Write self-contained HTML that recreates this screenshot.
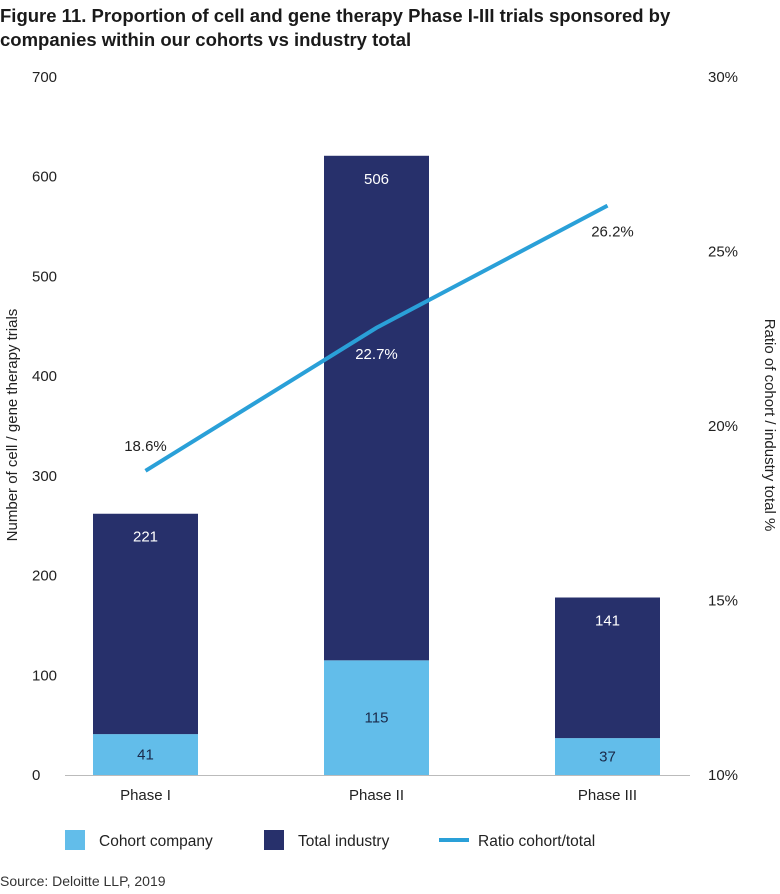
<!DOCTYPE html>
<html><head><meta charset="utf-8"><style>
body{margin:0;background:#fff;font-family:"Liberation Sans",sans-serif;}
svg text{font-family:"Liberation Sans",sans-serif;}
</style></head><body>
<svg id="chart" width="780" height="889" xmlns="http://www.w3.org/2000/svg">
<text x="0" y="22" font-size="18.5" font-weight="bold" fill="#1a1a1a">Figure 11. Proportion of cell and gene therapy Phase I-III trials sponsored by</text>
<text x="0" y="46" font-size="18.5" font-weight="bold" fill="#1a1a1a">companies within our cohorts vs industry total</text>
<text transform="translate(17,425) rotate(-90)" text-anchor="middle" font-size="15" fill="#222">Number of cell / gene therapy trials</text>
<text transform="translate(765,425) rotate(90)" text-anchor="middle" font-size="15" fill="#222">Ratio of cohort / industry total %</text>
<g id="plot"></g>
<g>
<rect x="65" y="830" width="20" height="20" fill="#62bdea"/>
<text x="99" y="846" font-size="15.5" fill="#222">Cohort company</text>
<rect x="264" y="830" width="20" height="20" fill="#27306b"/>
<text x="298" y="846" font-size="15.5" fill="#222">Total industry</text>
<line x1="439" y1="840" x2="469" y2="840" stroke="#2aa0d8" stroke-width="4"/>
<text x="478" y="846" font-size="15.5" fill="#222">Ratio cohort/total</text>
</g>
<text x="0" y="886" font-size="14" fill="#333">Source: Deloitte LLP, 2019</text>
</svg>
<script>
const categories = ["Phase I","Phase II","Phase III"];
const cohort = [41,115,37];
const industry = [221,506,141];
const ratio = [18.6,22.7,26.2];
const leftTicks = [0,100,200,300,400,500,600,700];
const rightTicks = [10,15,20,25,30];

const NS="http://www.w3.org/2000/svg";
const g=document.getElementById('plot');
const y0=775, yTop=77, xL=30, xR=723;
const y=v=>y0-(v/700)*(y0-yTop);
const y2=v=>y0-((v-10)/20)*(y0-yTop);
const band=(xR-xL)/categories.length;
const xc=i=>xL+band*(i+0.5);
const bw=105;
function mk(tag,attrs,txt){const e=document.createElementNS(NS,tag);for(const k in attrs)e.setAttribute(k,attrs[k]);if(txt!==undefined)e.textContent=txt;g.appendChild(e);return e;}
leftTicks.forEach(t=>{const e=mk('text',{x:32,y:y(t)+5,'font-size':15,fill:'#222'},String(t));

});
rightTicks.forEach(t=>{const e=mk('text',{x:708,y:y2(t)+5,'font-size':15,fill:'#222'},t+'%');

});
categories.forEach((c,i)=>{
 const x=xc(i)-bw/2;
 const b1=mk('rect',{x:x,y:y(cohort[i]),width:bw,height:y0-y(cohort[i]),fill:'#62bdea'});
 
 
 const top=cohort[i]+industry[i];
 const b2=mk('rect',{x:x,y:y(top),width:bw,height:y(cohort[i])-y(top),fill:'#27306b'});
 
 
 const l1=mk('text',{x:xc(i),y:(y0+y(cohort[i]))/2+5,'text-anchor':'middle','font-size':15,fill:'#1a2a4a'},String(cohort[i]));
 
 
 const l2=mk('text',{x:xc(i),y:y(top)+28,'text-anchor':'middle','font-size':15,fill:'#fff'},String(industry[i]));
 
 
 const cl=mk('text',{x:xc(i),y:800,'text-anchor':'middle','font-size':15,fill:'#222'},c);
 
 
});
const ax=mk('line',{x1:65,y1:y0+0.5,x2:690,y2:y0+0.5,stroke:'#bbb','stroke-width':1});


const pts=ratio.map((r,i)=>xc(i)+','+(y2(r)-4)).join(' ');
const pl=mk('polyline',{points:pts,fill:'none',stroke:'#2aa0d8','stroke-width':4});


ratio.forEach((r,i)=>{
 const dy = i===0 ? -29 : 22;
 const dx = i===2 ? 5 : 0;
 const t=mk('text',{x:xc(i)+dx,y:y2(r)+dy+5,'text-anchor':'middle','font-size':15,fill:i===1?'#fff':'#222'},r.toFixed(1)+'%');
 
 
});
</script>
</body></html>
